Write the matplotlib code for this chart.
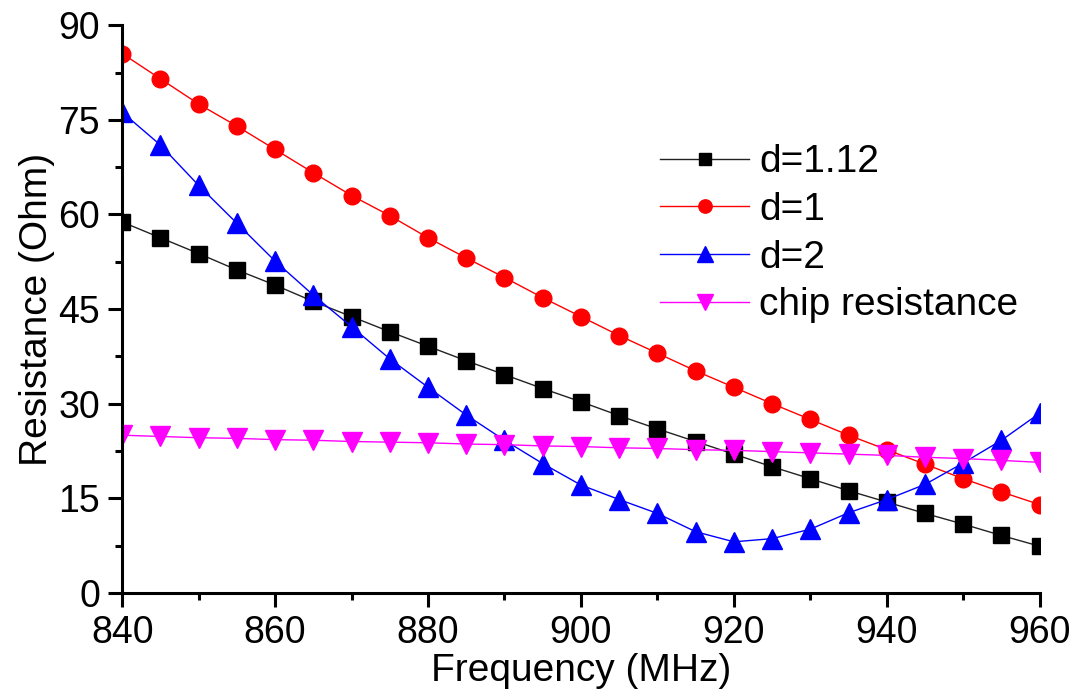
import matplotlib
matplotlib.use("Agg")
import matplotlib.pyplot as plt
from matplotlib.ticker import MultipleLocator

plt.rcParams['font.family'] = ['Liberation Sans', 'DejaVu Sans']

freq = [840, 845, 850, 855, 860, 865, 870, 875, 880, 885, 890, 895, 900,
        905, 910, 915, 920, 925, 930, 935, 940, 945, 950, 955, 960]

r_d112 = [58.8, 56.3, 53.8, 51.2, 48.8, 46.2, 43.8, 41.4, 39.1, 36.8, 34.6, 32.4, 30.3,
          28.1, 26.0, 24.0, 22.0, 20.0, 18.1, 16.2, 14.4, 12.6, 10.9, 9.1, 7.4]
r_d1 = [85.5, 81.5, 77.5, 74.0, 70.3, 66.6, 63.0, 59.8, 56.3, 53.1, 50.0, 46.8, 43.8,
        40.8, 38.0, 35.2, 32.6, 30.0, 27.5, 25.0, 22.7, 20.4, 18.1, 16.0, 14.0]
r_d2 = [76.2, 71.0, 64.6, 58.6, 52.6, 47.2, 42.2, 37.1, 32.6, 28.2, 24.2, 20.5, 17.1,
        14.8, 12.6, 9.7, 8.1, 8.6, 10.1, 12.7, 14.8, 17.2, 20.6, 24.2, 28.5]
r_chip = [25.0, 24.8, 24.6, 24.5, 24.3, 24.2, 24.0, 23.9, 23.8, 23.6, 23.5, 23.3, 23.2,
          23.0, 22.9, 22.7, 22.6, 22.4, 22.2, 22.0, 21.8, 21.5, 21.3, 21.0, 20.7]

fig = plt.figure(figsize=(10.91, 7.0), dpi=100)
ax = fig.add_axes([0.112, 0.153, 0.841, 0.811])

ax.plot(freq, r_d112, color='#222222', lw=1.0, marker='s', ms=11,
        mfc='black', mec='black', label='d=1.12')
ax.plot(freq, r_d1, color='red', lw=1.0, marker='o', ms=12,
        mfc='red', mec='red', label='d=1')
ax.plot(freq, r_d2, color='blue', lw=1.0, marker='^', ms=14,
        mfc='blue', mec='blue', label='d=2')
ax.plot(freq, r_chip, color='magenta', lw=1.0, marker='v', ms=14,
        mfc='magenta', mec='magenta', label='chip resistance')

ax.set_xlim(840, 960)
ax.set_ylim(0, 90)
ax.xaxis.set_major_locator(MultipleLocator(20))
ax.xaxis.set_minor_locator(MultipleLocator(10))
ax.yaxis.set_major_locator(MultipleLocator(15))
ax.yaxis.set_minor_locator(MultipleLocator(7.5))

for s in ['top', 'right']:
    ax.spines[s].set_visible(False)
for s in ['left', 'bottom']:
    ax.spines[s].set_linewidth(2.2)

ax.tick_params(which='major', direction='out', length=10, width=2.2, labelsize=27)
ax.tick_params(which='minor', direction='out', length=5, width=2.2)
ax.tick_params(axis='y', which='major', pad=6)
ax.tick_params(axis='x', which='major', pad=6)

ax.set_xlabel('Frequency (MHz)', fontsize=28, labelpad=1)
ax.set_ylabel('Resistance (Ohm)', fontsize=28, labelpad=2)

leg = ax.legend(loc='upper left', bbox_to_anchor=(0.586, 0.79), frameon=False,
                fontsize=28, handlelength=2.3, handletextpad=0.25,
                labelspacing=0.3, markerscale=0.8,
                borderaxespad=0, borderpad=0)

fig.savefig('out.png', dpi=100)
